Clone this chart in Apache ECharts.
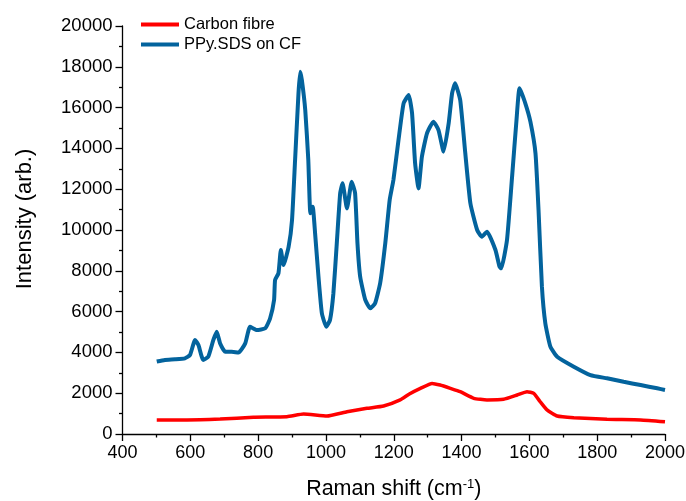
<!DOCTYPE html>
<html>
<head>
<meta charset="utf-8">
<script src="https://cdn.jsdelivr.net/npm/echarts@6/dist/echarts.min.js"></script>
<style>html,body{margin:0;padding:0;background:#fff}#c{width:686px;height:501px}</style>
</head>
<body>
<div id="c"></div>
<script>
var seriesNames = ['Carbon fibre', 'PPy.SDS on CF'];
var xTicks = [400, 600, 800, 1000, 1200, 1400, 1600, 1800, 2000];
var yTicks = [0, 2000, 4000, 6000, 8000, 10000, 12000, 14000, 16000, 18000, 20000];
var yTitle = 'Intensity (arb.)';

var ppyX = [501,525,555,584,599,614,624,638,653,668,678,688,703,722,742,762,776,796,821,835,847,850,860,867,875,890,900,909,919,924,929,939,948,954,961,968,978,988,1001,1012,1022,1032,1042,1049,1062,1076,1086,1093,1101,1116,1131,1145,1160,1175,1188,1199,1214,1229,1244,1254,1263,1273,1283,1298,1317,1332,1347,1362,1372,1381,1396,1411,1426,1446,1460,1475,1500,1512,1517,1534,1549,1562,1571,1588,1603,1618,1627,1637,1647,1662,1682,1731,1780,1829,1878,1928,1977,2000];
var ppyY = [3550,3630,3660,3710,3870,4610,4360,3630,3790,4610,5010,4440,4030,4030,3990,4440,5260,5100,5180,5650,6570,7550,7880,9020,8280,9180,10490,13430,16700,17760,17350,15880,13430,10820,11140,9840,7710,5920,5260,5590,6900,9350,11800,12290,11060,12370,11800,9350,7710,6570,6160,6410,7400,9350,11470,12450,14410,16210,16620,15720,13270,12040,13590,14740,15310,14900,13840,15230,16700,17190,16370,13760,11310,10000,9670,9920,9020,8200,8120,9510,12610,15390,16950,16210,15310,13760,10980,7220,5430,4280,3790,3300,2890,2730,2560,2400,2240,2160];

var cfX = [501,590,688,786,885,934,1003,1062,1121,1170,1219,1246,1280,1313,1337,1367,1396,1436,1475,1524,1564,1593,1613,1632,1652,1682,1731,1829,1928,2000];
var cfY = [690,690,735,820,850,980,880,1090,1260,1370,1670,1960,2250,2480,2400,2240,2075,1750,1670,1700,1910,2075,1990,1580,1180,880,800,720,690,600];

function pairs(xs, ys){ return xs.map(function(x,i){ return [x, ys[i]]; }); }

var font = 'Liberation Sans, Arial, sans-serif';
var chart = echarts.init(document.getElementById('c'), null, {renderer:'canvas'});
chart.setOption({
  animation: false,
  backgroundColor: '#ffffff',
  grid: {left: 122.5, right: 21, top: 26, bottom: 67, containLabel: false, outerBoundsMode: 'none'},
  legend: {
    orient: 'vertical', left: 136, top: 11, itemWidth: 38, itemHeight: 4, itemGap: 3,
    icon: 'rect',
    textStyle: {fontFamily: font, fontSize: 16.5, color: '#000'},
    data: seriesNames
  },
  graphic: [{
    type: 'text', x: 25, y: 219, rotation: Math.PI / 2,
    style: {text: yTitle, fontFamily: font, fontSize: 22, fill: '#000', align: 'center', verticalAlign: 'middle'}
  }],
  xAxis: {
    type: 'value', min: xTicks[0], max: xTicks[xTicks.length-1], interval: 200,
    axisLine: {lineStyle: {color: '#000', width: 1.3}},
    axisTick: {inside: false, length: 7, lineStyle: {color: '#000', width: 1.3}},
    minorTick: {show: true, splitNumber: 2, length: 3.5, lineStyle: {color: '#000', width: 1.3}},
    splitLine: {show: false},
    axisLabel: {fontFamily: font, fontSize: 18, color: '#000', margin: 10, formatter: function(v){ return String(v); }},
    name: '{a|Raman shift (cm}{s|-1}{a|)}',
    nameLocation: 'middle', nameGap: 44,
    nameTextStyle: {rich: {
      a: {fontFamily: font, fontSize: 21.5, color: '#000'},
      s: {fontFamily: font, fontSize: 13, color: '#000', verticalAlign: 'top', padding: [0,0,10,0]}
    }}
  },
  yAxis: {
    type: 'value', min: yTicks[0], max: yTicks[yTicks.length-1], interval: 2000,
    axisLine: {show: true, lineStyle: {color: '#000', width: 1.3}},
    axisTick: {show: true, inside: false, length: 7, lineStyle: {color: '#000', width: 1.3}},
    minorTick: {show: true, splitNumber: 2, length: 3.5, lineStyle: {color: '#000', width: 1.3}},
    splitLine: {show: false},
    axisLabel: {fontFamily: font, fontSize: 18.5, color: '#000', margin: 10, formatter: function(v){ return String(v); }}
  },
  series: [
    {name: seriesNames[0], type: 'line', symbol: 'none', smooth: 0.15, data: pairs(cfX, cfY),
     lineStyle: {color: '#ff0000', width: 3.5}, itemStyle: {color: '#ff0000'}, z: 3},
    {name: seriesNames[1], type: 'line', symbol: 'none', smooth: 0.15, data: pairs(ppyX, ppyY),
     lineStyle: {color: '#03639d', width: 4}, itemStyle: {color: '#03639d'}, z: 2}
  ]
});
</script>
</body>
</html>
